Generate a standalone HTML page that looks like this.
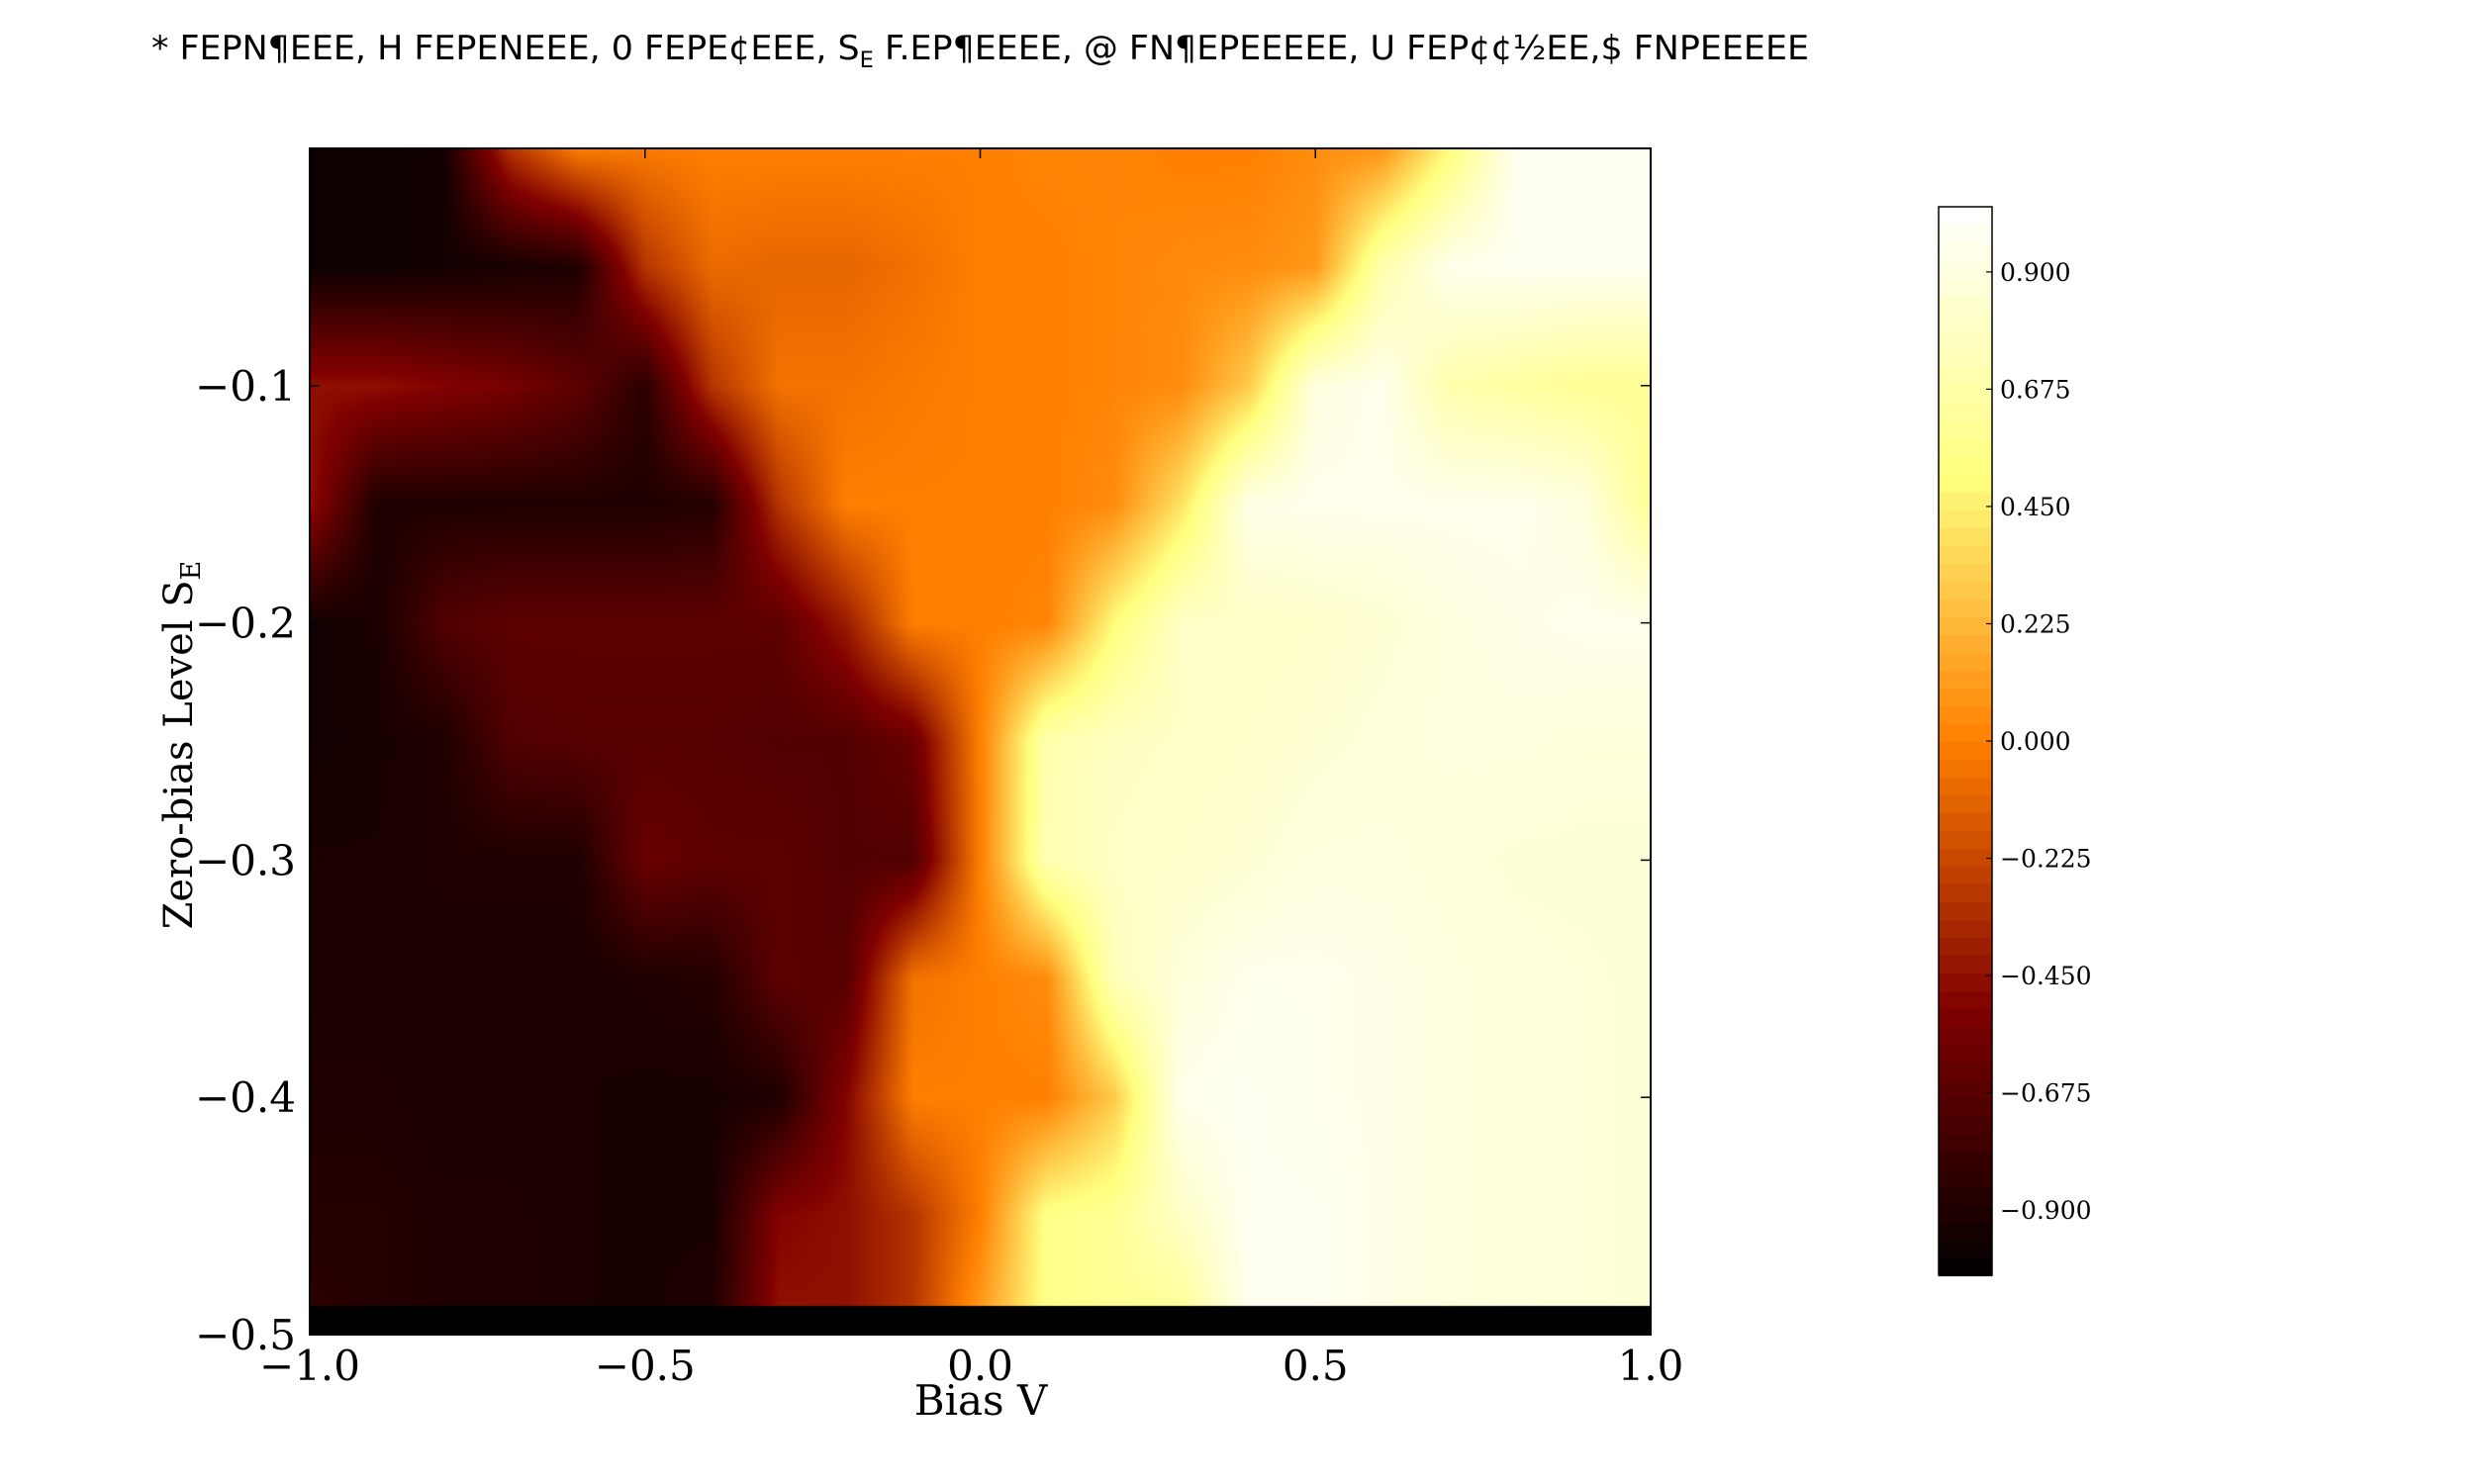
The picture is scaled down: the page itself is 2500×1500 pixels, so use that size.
<!DOCTYPE html>
<html><head><meta charset="utf-8"><style>
html,body{margin:0;padding:0;background:#fff;}
#wrap{position:relative;width:2500px;height:1500px;overflow:hidden;}
canvas,svg{position:absolute;left:0;top:0;}
</style></head><body>
<div id="wrap">
<canvas id="heat" width="2500" height="1500"></canvas>
<svg id="svg" width="2500" height="1500" xmlns="http://www.w3.org/2000/svg">
<text x="153" y="60" font-family="DejaVu Sans, sans-serif" font-size="34" textLength="1675" lengthAdjust="spacingAndGlyphs">* FEPN¶EEE, H FEPENEEE, 0 FEPE¢EEE, S<tspan font-size="22" dy="8">E</tspan><tspan dy="-8"> F.EP¶EEEE, @ FN¶EPEEEEE, U FEP¢¢½EE,$ FNPEEEEE</tspan></text>
<text x="991" y="1430" text-anchor="middle" font-family="DejaVu Serif, serif" font-size="42">Bias V</text>
<text transform="translate(194,753) rotate(-90)" text-anchor="middle" font-family="DejaVu Serif, serif" font-size="40">Zero-bias Level S<tspan font-size="27" dy="8">E</tspan></text>
<g id="axes"></g>
</svg>
</div>
<script>
// ---- data ----
const xValues = [-1.0,-0.9,-0.8,-0.7,-0.6,-0.5,-0.4,-0.3,-0.2,-0.1,0.0,0.1,0.2,0.3,0.4,0.5,0.6,0.7,0.8,0.9,1.0];
const yValues = [0,-0.05,-0.1,-0.15,-0.2,-0.25,-0.3,-0.35,-0.4,-0.45,-0.488];
const row0 = [-0.97,-0.97,-0.95,-0.3,0.0,-0.02,0.0,0.0,0.0,0.0,0.0,0.02,0.02,0.0,0.0,0.05,0.08,0.5,0.97,0.97,0.97];
const row1 = [-0.97,-0.97,-0.95,-0.93,-0.9,-0.3,-0.08,-0.1,-0.1,-0.06,0.0,0.0,0.02,0.04,0.05,0.1,0.7,0.95,0.97,0.97,0.97];
const row2 = [-0.45,-0.45,-0.5,-0.55,-0.65,-0.85,-0.3,-0.05,-0.05,-0.02,0.0,0.0,0.02,0.05,0.3,0.9,0.95,0.7,0.65,0.6,0.6];
const row3 = [-0.45,-0.9,-0.9,-0.9,-0.9,-0.9,-0.88,-0.3,0.0,0.0,0.0,0.0,0.05,0.4,0.93,0.95,0.95,0.95,0.95,0.9,0.6];
const row4 = [-0.95,-0.92,-0.7,-0.65,-0.65,-0.65,-0.65,-0.65,-0.4,0.0,0.0,0.02,0.5,0.8,0.8,0.82,0.85,0.9,0.93,0.95,0.95];
const row5 = [-0.95,-0.93,-0.9,-0.7,-0.68,-0.68,-0.68,-0.7,-0.7,-0.6,0.0,0.7,0.78,0.8,0.82,0.85,0.88,0.9,0.9,0.88,0.88];
const row6 = [-0.92,-0.92,-0.9,-0.9,-0.9,-0.6,-0.65,-0.65,-0.7,-0.7,0.0,0.72,0.8,0.82,0.85,0.9,0.9,0.88,0.86,0.86,0.86];
const row7 = [-0.92,-0.92,-0.92,-0.92,-0.92,-0.9,-0.88,-0.65,-0.68,-0.05,0.0,0.05,0.75,0.88,0.95,0.95,0.93,0.9,0.88,0.87,0.86];
const row8 = [-0.9,-0.9,-0.92,-0.92,-0.92,-0.93,-0.93,-0.9,-0.5,0.0,0.0,0.0,0.3,0.95,0.97,0.95,0.93,0.9,0.88,0.87,0.86];
const row9 = [-0.88,-0.88,-0.9,-0.9,-0.92,-0.93,-0.93,-0.5,-0.45,-0.3,0.0,0.55,0.6,0.8,0.97,0.97,0.93,0.9,0.88,0.87,0.86];
const row10 = [-0.85,-0.88,-0.9,-0.9,-0.92,-0.93,-0.9,-0.45,-0.45,-0.3,0.1,0.55,0.6,0.62,0.97,0.97,0.93,0.9,0.88,0.87,0.86];
const zRows = [row0,row1,row2,row3,row4,row5,row6,row7,row8,row9,row10];
const xTickValues = [-1.0,-0.5,0.0,0.5,1.0];
const xTickLabels = ["\u22121.0","\u22120.5","0.0","0.5","1.0"];
const yTickValues = [-0.1,-0.2,-0.3,-0.4,-0.5];
const yTickLabels = ["\u22120.1","\u22120.2","\u22120.3","\u22120.4","\u22120.5"];
const cbTickValues = [0.9,0.675,0.45,0.225,0.0,-0.225,-0.45,-0.675,-0.9];
const cbTickLabels = ["0.900","0.675","0.450","0.225","0.000","\u22120.225","\u22120.450","\u22120.675","\u22120.900"];
const vmin = -1.025, vmax = 1.025;

// ---- layout ----
const L=313,R=1668,T=150,B=1349;
const xMin=-1,xMax=1,yTop=0,yBot=-0.5;
const sx = v => L + (v-xMin)/(xMax-xMin)*(R-L);
const sy = v => T + (yTop-v)/(yTop-yBot)*(B-T);
const CL=1959,CR=2013,CT=209,CB=1289;
const cy = v => CB - (v-vmin)/(vmax-vmin)*(CB-CT);

function cmap(v){
  let t=(v-vmin)/(vmax-vmin); t=Math.max(0,Math.min(1,t));
  const c=x=>Math.round(255*Math.max(0,Math.min(1,x)));
  return [c(2*t),c(2*t-0.5),c(2*t-1)];
}

function interp(x,y){
  let i=0; while(i<xValues.length-2 && x>xValues[i+1]) i++;
  let j=0; while(j<yValues.length-2 && y<yValues[j+1]) j++;
  let fx=(x-xValues[i])/(xValues[i+1]-xValues[i]);
  let fy=(y-yValues[j])/(yValues[j+1]-yValues[j]);
  fx=Math.max(0,Math.min(1,fx)); fy=Math.max(0,Math.min(1,fy));
  const a=zRows[j][i],b=zRows[j][i+1],c=zRows[j+1][i],d=zRows[j+1][i+1];
  return (a*(1-fx)+b*fx)*(1-fy)+(c*(1-fx)+d*fx)*fy;
}

const cv=document.getElementById('heat');
const ctx=cv.getContext('2d');
const W=R-L,H=B-T;
const img=ctx.createImageData(W,H);
const yDataEnd=yValues[yValues.length-1];
for(let py=0;py<H;py++){
  const yv=yTop-(py+0.5)/H*(yTop-yBot);
  for(let px=0;px<W;px++){
    const xv=xMin+(px+0.5)/W*(xMax-xMin);
    let col;
    if(yv<yDataEnd) col=[0,0,0];
    else col=cmap(interp(xv,yv));
    const k=(py*W+px)*4;
    img.data[k]=col[0];img.data[k+1]=col[1];img.data[k+2]=col[2];img.data[k+3]=255;
  }
}
ctx.putImageData(img,L,T);
// colorbar
const nLev=60;
for(let k=0;k<nLev;k++){
  const v0=vmin+(vmax-vmin)*k/nLev, v1=vmin+(vmax-vmin)*(k+1)/nLev;
  const c=cmap((v0+v1)/2);
  ctx.fillStyle=`rgb(${c[0]},${c[1]},${c[2]})`;
  ctx.fillRect(CL,cy(v1),CR-CL,cy(v0)-cy(v1)+1);
}

// ---- axes ----
const NS='http://www.w3.org/2000/svg';
const g=document.getElementById('axes');
function mk(tag,attrs,name,text){
  const e=document.createElementNS(NS,tag);
  for(const k in attrs) e.setAttribute(k,attrs[k]);
  
  
  if(text!==undefined) e.textContent=text;
  g.appendChild(e); return e;
}
mk('rect',{x:L,y:T,width:R-L,height:B-T,fill:'none',stroke:'#000','stroke-width':2},'plot-frame');
xTickValues.forEach((v,i)=>{
  const x=sx(v);
  mk('line',{x1:x,y1:B,x2:x,y2:B-10,stroke:'#000','stroke-width':1.5},'x-tick-bottom');
  mk('line',{x1:x,y1:T,x2:x,y2:T+10,stroke:'#000','stroke-width':1.5},'x-tick-top');
  mk('text',{x:x,y:B+46,'text-anchor':'middle','font-family':'DejaVu Serif, serif','font-size':42},'x-tick-label',xTickLabels[i]);
});
yTickValues.forEach((v,i)=>{
  const y=sy(v);
  mk('line',{x1:L,y1:y,x2:L+10,y2:y,stroke:'#000','stroke-width':1.5},'y-tick-left');
  mk('line',{x1:R,y1:y,x2:R-10,y2:y,stroke:'#000','stroke-width':1.5},'y-tick-right');
  mk('text',{x:L-14,y:y+15,'text-anchor':'end','font-family':'DejaVu Serif, serif','font-size':42},'y-tick-label',yTickLabels[i]);
});
mk('rect',{x:CL,y:CT,width:CR-CL,height:CB-CT,fill:'none',stroke:'#000','stroke-width':1.5},'colorbar-frame');
cbTickValues.forEach((v,i)=>{
  const y=cy(v);
  mk('line',{x1:CR,y1:y,x2:CR-6,y2:y,stroke:'#000','stroke-width':1.2},'colorbar-tick');
  mk('text',{x:CR+8,y:y+9,'font-family':'DejaVu Serif, serif','font-size':25},'colorbar-tick-label',cbTickLabels[i]);
});
</script>
</body></html>
